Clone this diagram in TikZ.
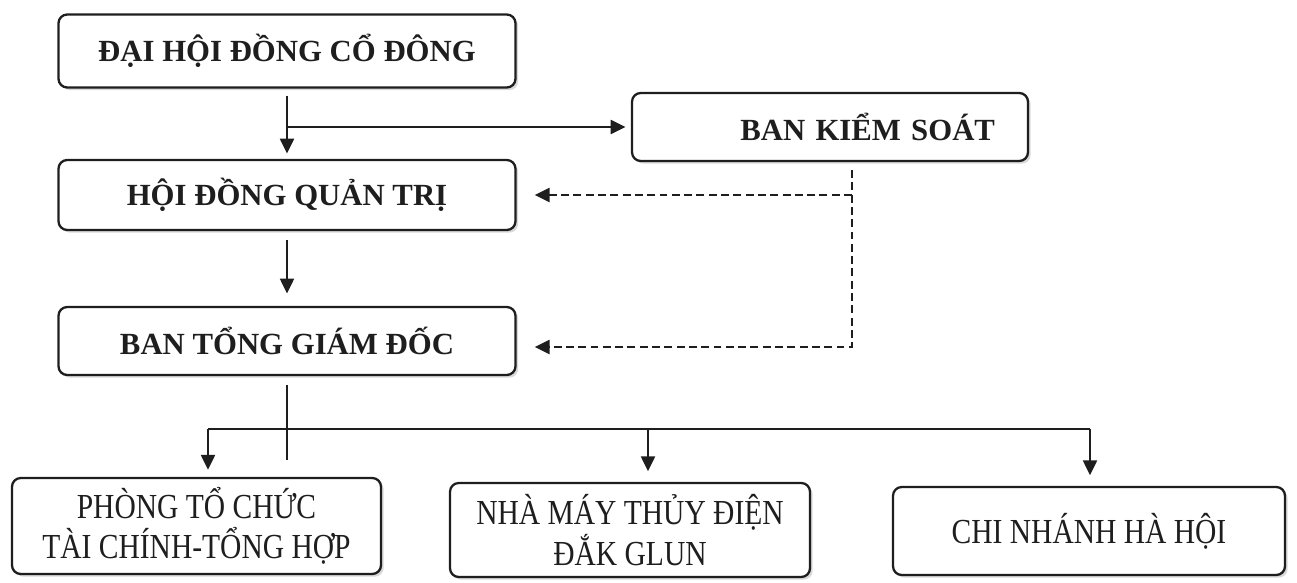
\documentclass[tikz,border=0pt]{standalone}
\usepackage{fontspec}
\setmainfont{Liberation Serif}
\newfontfamily\condfont[FakeStretch=0.84]{Liberation Serif}
\usepackage{xcolor}
\usepackage{tikz}
\usetikzlibrary{arrows.meta,shadows}
\definecolor{ink}{HTML}{1E1E1E}
\tikzset{
  box/.style={draw=ink, line width=1.3pt, rounded corners=5pt, fill=white,
    align=center, text=ink, drop shadow={opacity=0.3, shadow xshift=1.5pt, shadow yshift=-1.5pt}},
  topbox/.style={box, font=\fontsize{17.5}{20}\selectfont\bfseries},
  lowbox/.style={box, font=\condfont\fontsize{20}{23}\selectfont},
  arr/.style={draw=ink, line width=1.3pt, -{Triangle[length=3mm,width=2.8mm]}},
  link/.style={draw=ink, line width=1.3pt},
  dashline/.style={arr, dash pattern=on 4.5pt off 2.5pt}
}
\begin{document}
\begin{tikzpicture}
\useasboundingbox (0,0) rectangle (25.94,-11.66);
% management
\node[topbox, minimum width=9.14cm, minimum height=1.46cm] (dhd) at (5.74,-1.02) {ĐẠI HỘI ĐỒNG CỔ ĐÔNG};
\node[topbox, minimum width=7.92cm, minimum height=1.36cm, text width=6.6cm, align=right] (bks) at (16.6,-2.54) {BAN KIỂM SOÁT};
\node[topbox, minimum width=9.14cm, minimum height=1.4cm] (hdqt) at (5.74,-3.9) {HỘI ĐỒNG QUẢN TRỊ};
\node[topbox, minimum width=9.14cm, minimum height=1.36cm] (btgd) at (5.74,-6.82) {BAN TỔNG GIÁM ĐỐC};
\draw[arr, shorten <=4pt, shorten >=3pt] (dhd.south) -- (hdqt.north);
\draw[arr, shorten >=3pt] (dhd.south |- bks.west) -- (bks.west);
\draw[arr, shorten <=5pt, shorten >=7pt] (hdqt.south) -- (btgd.north);

% control
\coordinate (d1) at (17.04,-3.4);
\coordinate (d2) at (17.04,-6.94);
\draw[dashline, shorten >=0.36cm] (d1) -- (d2) -- (d2 -| btgd.east);
\draw[dashline, shorten >=0.36cm] (d1 |- hdqt.east) -- (hdqt.east);

% units
\node[lowbox, minimum width=7.38cm, minimum height=1.92cm] (ptc) at (3.93,-10.52) {PHÒNG TỔ CHỨC\\TÀI CHÍNH-TỔNG HỢP};
\node[lowbox, minimum width=7.2cm, minimum height=1.88cm] (nmtd) at (12.6,-10.6) {NHÀ MÁY THỦY ĐIỆN\\ĐẮK GLUN};
\node[lowbox, minimum width=7.84cm, minimum height=1.76cm] (cnhh) at (21.78,-10.62) {CHI NHÁNH HÀ HỘI};
\coordinate (b1) at (5.74,-9.2);
\coordinate (bl) at (4.16,-8.58);
\coordinate (bm) at (12.96,-8.58);
\coordinate (br) at (21.8,-8.58);
\draw[link, shorten <=5pt] (btgd.south) -- (b1);
\draw[link] (bl) -- (br);
\draw[arr, shorten >=4pt] (bl) -- (bl |- ptc.north);
\draw[arr, shorten >=6pt] (bm) -- (bm |- nmtd.north);
\draw[arr, shorten >=6pt] (br) -- (br |- cnhh.north);
\end{tikzpicture}
\end{document}
